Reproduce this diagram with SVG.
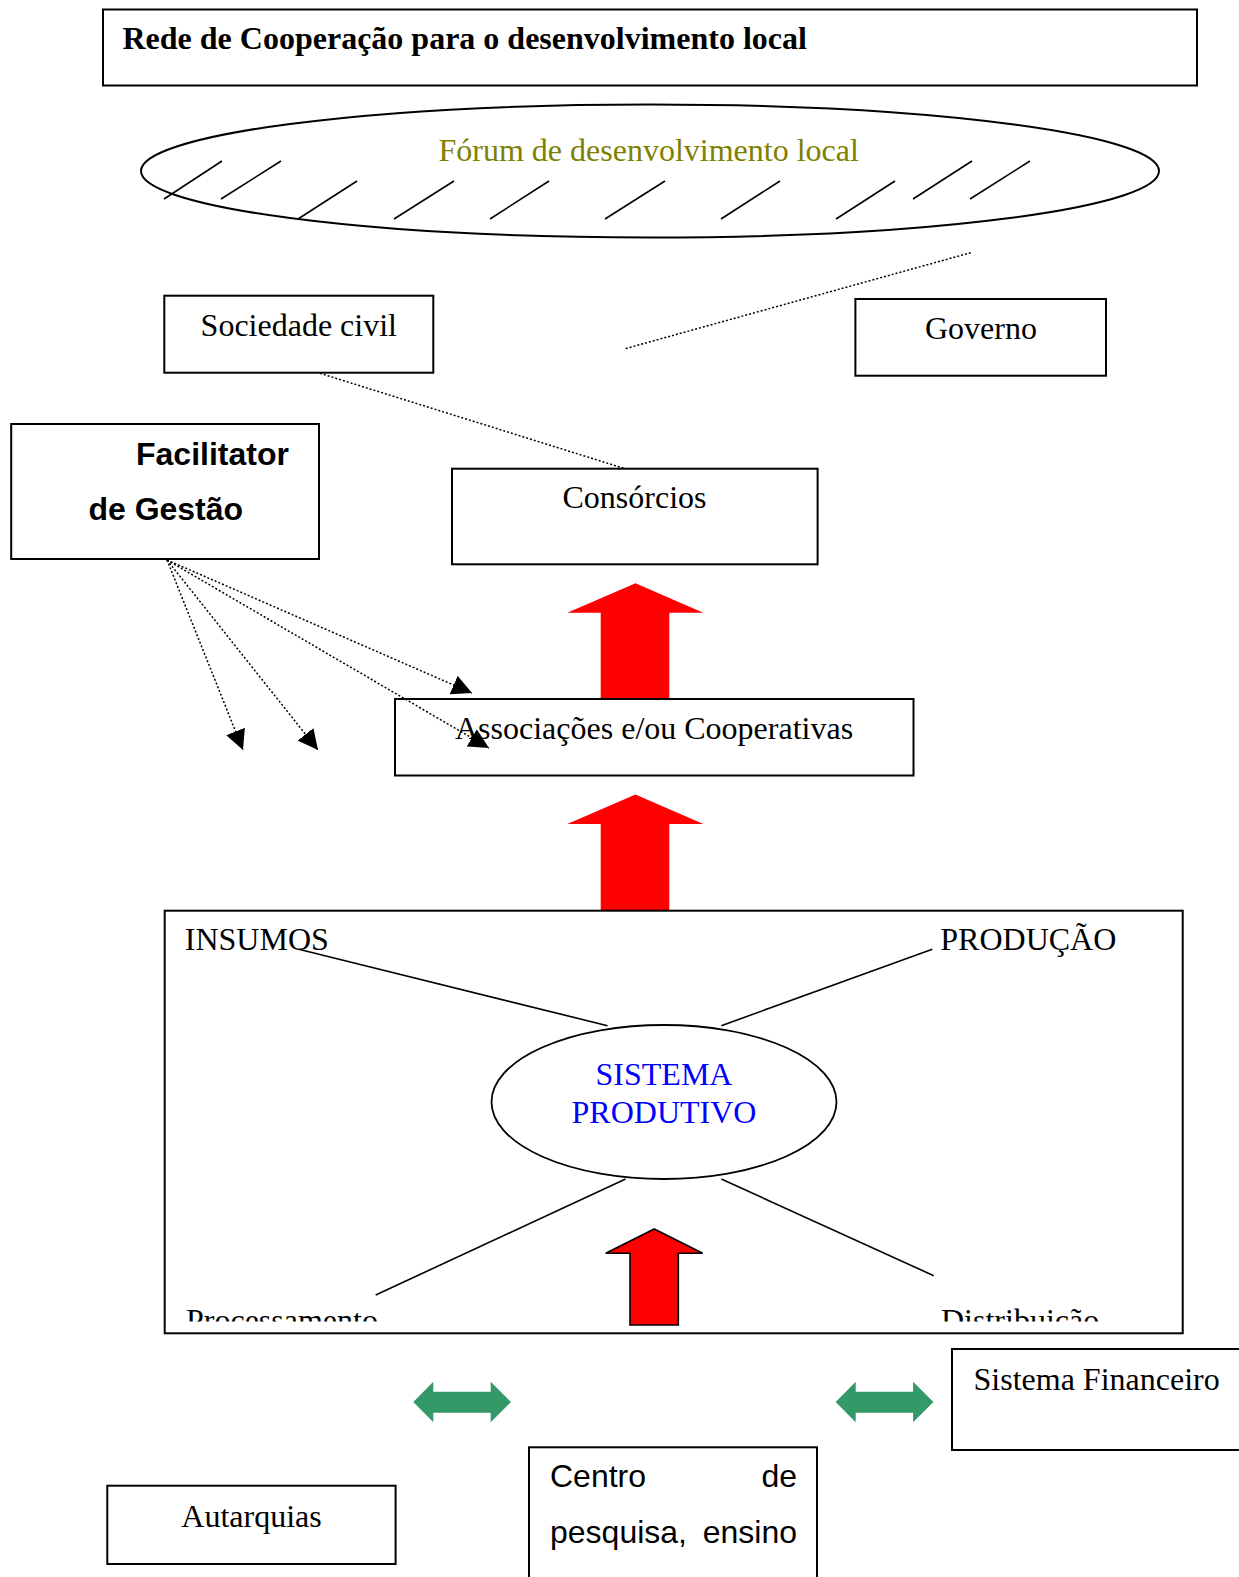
<svg xmlns="http://www.w3.org/2000/svg" width="1239" height="1577" viewBox="0 0 1239 1577">
<style>
.box{fill:#fff;stroke:#000;stroke-width:2}
.ser{font-family:"Liberation Serif","Times New Roman",serif;font-size:32px;fill:#000}
.san{font-family:"Liberation Sans",Arial,sans-serif;font-size:32px;fill:#000}
.ln{stroke:#000;stroke-width:1.6;fill:none}
.dot{stroke:#000;stroke-width:1.5;stroke-dasharray:2 2;fill:none}
.red{fill:#ff0000}
.grn{fill:#339966}
</style>
<defs>
<marker id="ah" viewBox="0 0 20 20" refX="20" refY="10" markerWidth="20" markerHeight="20" markerUnits="userSpaceOnUse" orient="auto">
<path d="M0,0 L20,10 L0,20 z" fill="#000"/>
</marker>
<clipPath id="clipBottom"><rect x="160" y="900" width="1030" height="421.5"/></clipPath>
</defs>
<rect width="1239" height="1577" fill="#fff"/>

<g id="title">
<rect class="box" x="103" y="9.5" width="1094" height="76"/>
<text class="ser" x="122.5" y="48.5" font-weight="bold">Rede de Cooperação para o desenvolvimento local</text>
</g>

<g id="forum">
<ellipse cx="650" cy="171" rx="509" ry="66.5" fill="#fff" stroke="#000" stroke-width="2"/>
<text class="ser" x="438.5" y="161" style="fill:#808000">Fórum de desenvolvimento local</text>
<g class="ln">
<line x1="164" y1="199" x2="222" y2="161"/>
<line x1="221" y1="199" x2="281" y2="161"/>
<line x1="298" y1="219" x2="357" y2="181"/>
<line x1="394" y1="219" x2="454" y2="181"/>
<line x1="490" y1="219" x2="549" y2="181"/>
<line x1="605" y1="219" x2="665" y2="181"/>
<line x1="721" y1="219" x2="780" y2="181"/>
<line x1="836" y1="219" x2="895" y2="181"/>
<line x1="913" y1="199" x2="972" y2="161"/>
<line x1="970" y1="199" x2="1030" y2="161"/>
</g>
</g>

<g id="arrows-red">
<polygon class="red" points="635.5,583.3 703.3,612.7 669.3,612.7 669.3,699 600.7,699 600.7,612.7 567.3,612.7"/>
<polygon class="red" points="635.5,794.5 703.3,823.9 669.3,823.9 669.3,911 600.7,911 600.7,823.9 567.3,823.9"/>
</g>

<g id="connectors">
<line class="dot" x1="970.7" y1="252.7" x2="624" y2="349"/>
<line class="dot" x1="320" y1="373.3" x2="625" y2="468.7"/>
<line class="dot" x1="167" y1="560" x2="243" y2="750" marker-end="url(#ah)"/>
<line class="dot" x1="167" y1="560" x2="318" y2="750" marker-end="url(#ah)"/>
<line class="dot" x1="167" y1="560" x2="472" y2="693" marker-end="url(#ah)"/>
</g>

<g id="sociedade">
<rect class="box" x="164.3" y="295.7" width="269" height="77"/>
<text class="ser" x="200.6" y="335.5">Sociedade civil</text>
</g>

<g id="governo">
<rect class="box" x="855.4" y="299" width="250.6" height="76.7"/>
<text class="ser" x="925" y="339">Governo</text>
</g>

<g id="facilitator">
<rect class="box" x="11.2" y="424" width="307.8" height="135"/>
<text class="san" x="136" y="465" font-weight="bold">Facilitator</text>
<text class="san" x="88.4" y="520.3" font-weight="bold">de Gestão</text>
</g>

<g id="consorcios">
<rect class="box" x="452" y="468.7" width="365.6" height="95.6"/>
<text class="ser" x="562.5" y="508.3">Consórcios</text>
</g>

<g id="associacoes">
<rect class="box" x="395" y="699" width="518.5" height="76.5"/>
<text class="ser" x="455" y="739.3">Associações e/ou Cooperativas</text>
<line class="dot" x1="167" y1="560" x2="489" y2="748" marker-end="url(#ah)"/>
</g>

<g id="sistema">
<rect class="box" x="164.7" y="910.7" width="1018" height="422.6"/>
<text class="ser" x="184.8" y="950">INSUMOS</text>
<text class="ser" x="940.3" y="950">PRODUÇÃO</text>
<g clip-path="url(#clipBottom)">
<text class="ser" x="186" y="1331">Processamento</text>
<text class="ser" x="941" y="1331">Distribuição</text>
</g>
<line class="ln" x1="298.7" y1="949.3" x2="607.5" y2="1025.7"/>
<line class="ln" x1="932.3" y1="949.3" x2="721.3" y2="1025.7"/>
<line class="ln" x1="625.6" y1="1179" x2="375.7" y2="1295"/>
<line class="ln" x1="721.3" y1="1179" x2="933.7" y2="1275.7"/>
<ellipse cx="664" cy="1102" rx="172.5" ry="77" fill="#fff" stroke="#000" stroke-width="1.8"/>
<text class="ser" x="664" y="1085" text-anchor="middle" style="fill:#0000ff">SISTEMA</text>
<text class="ser" x="664" y="1123.3" text-anchor="middle" style="fill:#0000ff">PRODUTIVO</text>
<polygon points="654.3,1229 702.7,1253.3 678.3,1253.3 678.3,1325 630,1325 630,1253.3 605.7,1253.3" fill="#ff0000" stroke="#000" stroke-width="1.6"/>
</g>

<g id="arrows-green">
<polygon class="grn" points="413.3,1402 433.3,1381.7 433.3,1391.7 490.7,1391.7 490.7,1381.7 511,1402 490.7,1422.3 490.7,1412.7 433.3,1412.7 433.3,1422.3"/>
<polygon class="grn" points="835.7,1402 855.7,1381.7 855.7,1391.7 913.1,1391.7 913.1,1381.7 933.4,1402 913.1,1422.3 913.1,1412.7 855.7,1412.7 855.7,1422.3"/>
</g>

<g id="financeiro">
<rect class="box" x="952" y="1349" width="300" height="101"/>
<text class="ser" x="973.5" y="1390">Sistema Financeiro</text>
</g>

<g id="centro">
<rect class="box" x="529" y="1447.3" width="288" height="150"/>
<text class="san" x="550" y="1487">Centro</text>
<text class="san" x="797" y="1487" text-anchor="end">de</text>
<text class="san" x="550" y="1543">pesquisa,</text>
<text class="san" x="797" y="1543" text-anchor="end">ensino</text>
</g>

<g id="autarquias">
<rect class="box" x="107.3" y="1485.7" width="288.3" height="78.3"/>
<text class="ser" x="251.5" y="1526.7" text-anchor="middle">Autarquias</text>
</g>
</svg>
